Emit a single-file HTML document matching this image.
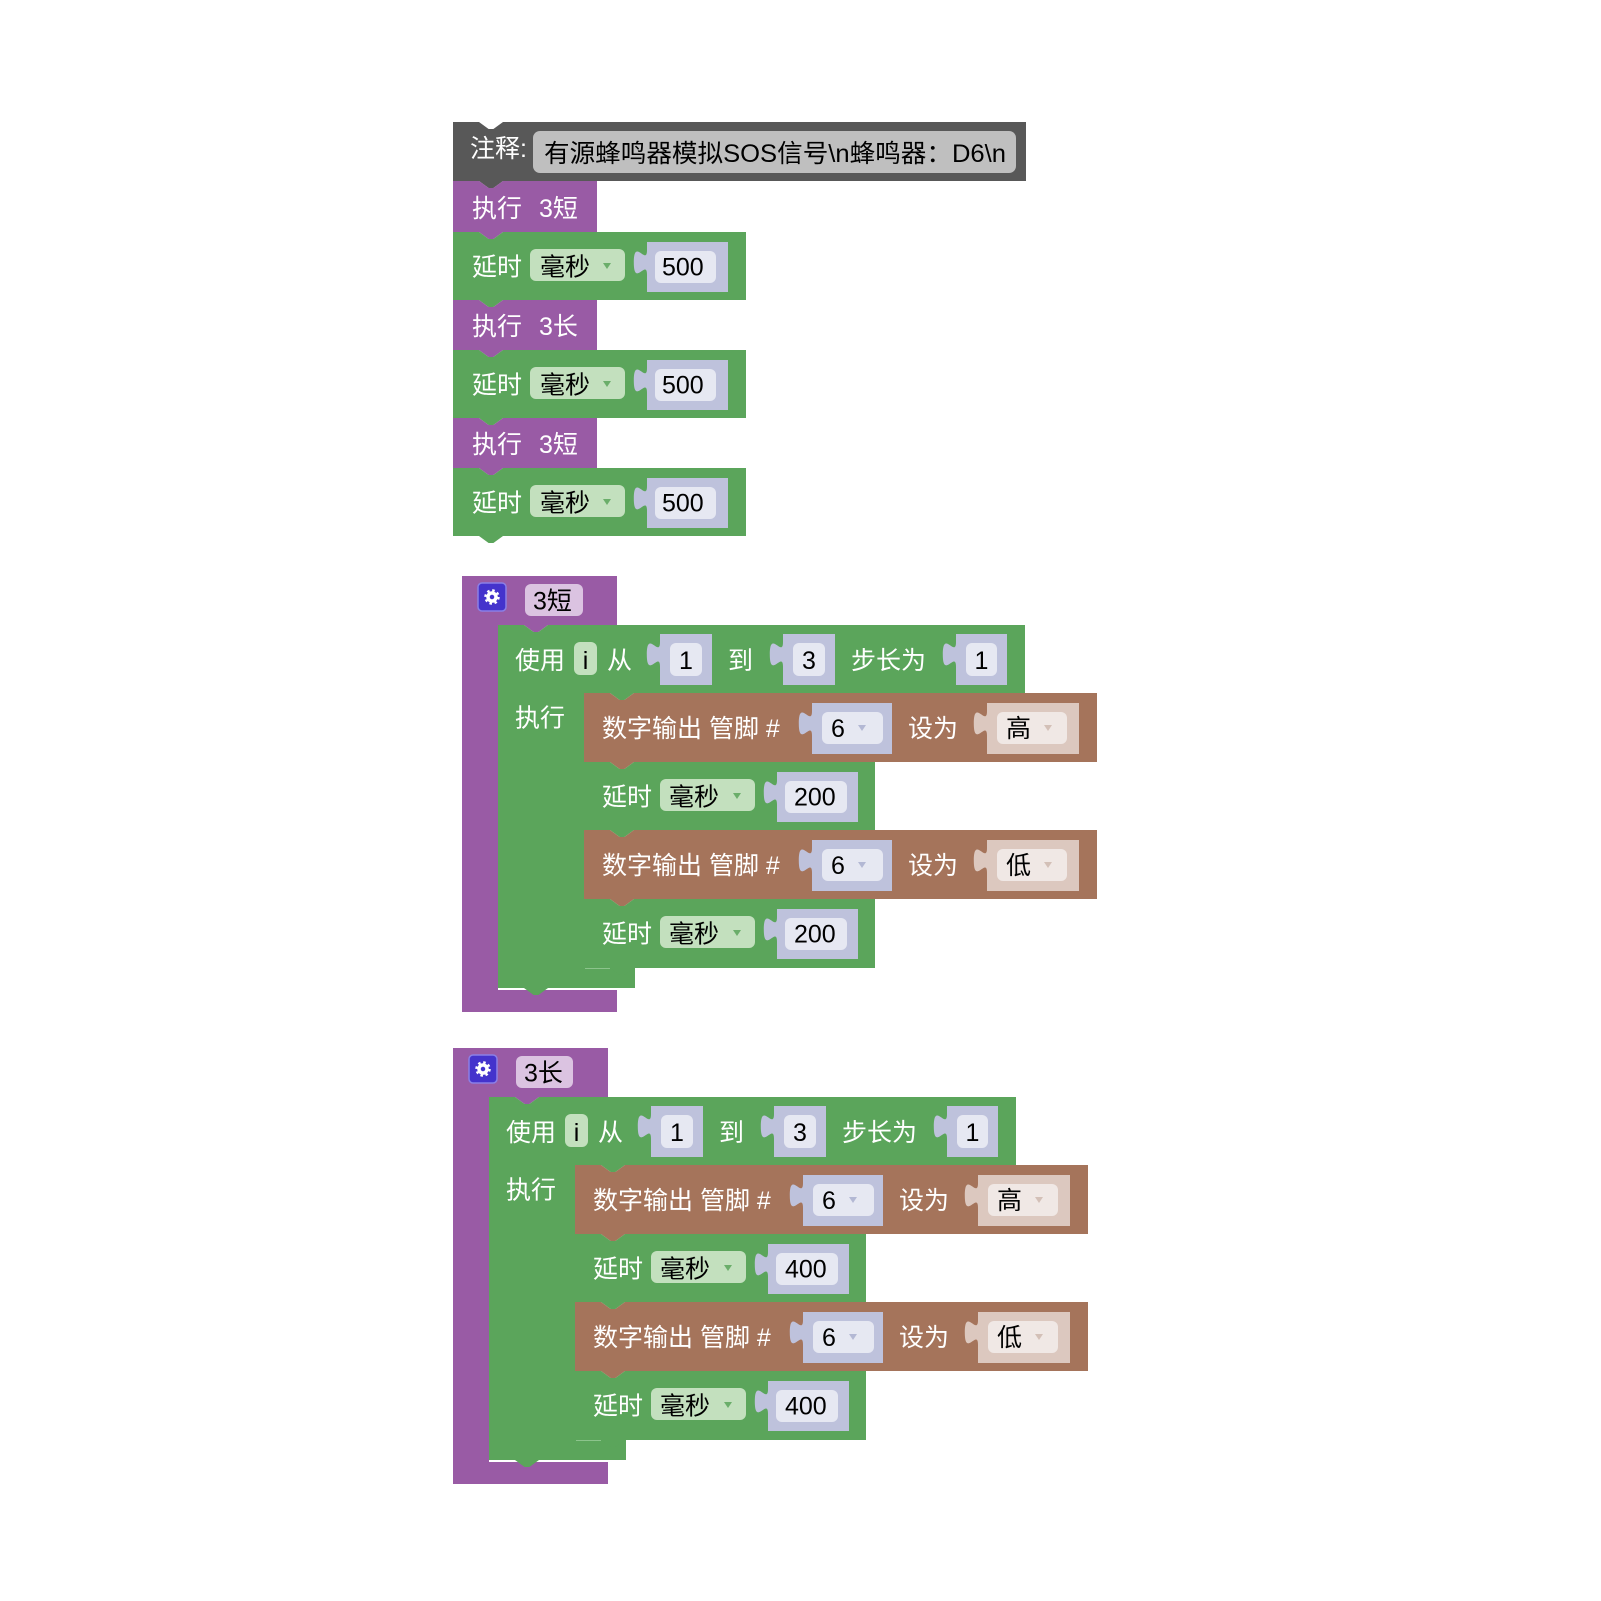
<!DOCTYPE html>
<html>
<head>
<meta charset="utf-8">
<style>
  html,body{margin:0;padding:0;background:#ffffff;}
  svg{display:block;}
  text{font-family:"Liberation Sans","Noto Sans CJK SC",sans-serif;font-size:25px;}
  .w{fill:#ffffff;}
  .k{fill:#000000;}
</style>
</head>
<body>
<svg xmlns="http://www.w3.org/2000/svg" width="1601" height="1601" viewBox="0 0 1601 1601">
  <rect x="0" y="0" width="1601" height="1601" fill="#ffffff"/>

  <!-- ============ STACK 1 ============ -->
  <!-- Comment block -->
  <path d="M453,122 H479 l9.6,7 4.8,0 9.6,-7 H1026 V181 H503 l-9.6,7 -4.8,0 -9.6,-7 H453 Z" fill="#585858"/>
  <rect x="533" y="131" width="483" height="42" rx="7" fill="#bfbfbf"/>
  <text class="w" x="470" y="157">注释:</text>
  <text class="k" x="544" y="162" textLength="462" lengthAdjust="spacingAndGlyphs">有源蜂鸣器模拟SOS信号\n蜂鸣器：D6\n</text>

  <!-- Purple 执行 3短 -->
  <path d="M453,181 H479 l9.6,7 4.8,0 9.6,-7 H597 V232 H503 l-9.6,7 -4.8,0 -9.6,-7 H453 Z" fill="#995ba5"/>
  <text class="w" x="472" y="217">执行</text>
  <text class="w" x="539" y="217">3短</text>

  <!-- Green delay 1 -->
  <path d="M453,232 H479 l9.6,7 4.8,0 9.6,-7 H746 V300 H503 l-9.6,7 -4.8,0 -9.6,-7 H453 Z" fill="#5ba55b"/>
  <text class="w" x="472" y="275.5">延时</text>
  <rect x="530" y="249" width="95" height="32" rx="6" fill="#c3e0be"/>
  <text class="k" x="540" y="275.5">毫秒</text>
  <polygon points="603,263 611,263 607,269" fill="#6aae6a"/>
  <path d="M647,242 V250 c0,16.5 -13.2,-13.2 -13.2,12.4 s13.2,-4.1 13.2,12.4 V292 H728 V242 Z" fill="#bec2dc"/>
  <rect x="655" y="251" width="61" height="32" rx="6" fill="#e6e8f2"/>
  <text class="k" x="662" y="275.5">500</text>

  <!-- Purple 执行 3长 -->
  <path d="M453,300 H479 l9.6,7 4.8,0 9.6,-7 H597 V350 H503 l-9.6,7 -4.8,0 -9.6,-7 H453 Z" fill="#995ba5"/>
  <text class="w" x="472" y="335">执行</text>
  <text class="w" x="539" y="335">3长</text>

  <!-- Green delay 2 -->
  <path d="M453,350 H479 l9.6,7 4.8,0 9.6,-7 H746 V418 H503 l-9.6,7 -4.8,0 -9.6,-7 H453 Z" fill="#5ba55b"/>
  <text class="w" x="472" y="393.5">延时</text>
  <rect x="530" y="367" width="95" height="32" rx="6" fill="#c3e0be"/>
  <text class="k" x="540" y="393.5">毫秒</text>
  <polygon points="603,381 611,381 607,387" fill="#6aae6a"/>
  <path d="M647,360 V368 c0,16.5 -13.2,-13.2 -13.2,12.4 s13.2,-4.1 13.2,12.4 V410 H728 V360 Z" fill="#bec2dc"/>
  <rect x="655" y="369" width="61" height="32" rx="6" fill="#e6e8f2"/>
  <text class="k" x="662" y="393.5">500</text>

  <!-- Purple 执行 3短 -->
  <path d="M453,418 H479 l9.6,7 4.8,0 9.6,-7 H597 V468 H503 l-9.6,7 -4.8,0 -9.6,-7 H453 Z" fill="#995ba5"/>
  <text class="w" x="472" y="453">执行</text>
  <text class="w" x="539" y="453">3短</text>

  <!-- Green delay 3 -->
  <path d="M453,468 H479 l9.6,7 4.8,0 9.6,-7 H746 V536 H503 l-9.6,7 -4.8,0 -9.6,-7 H453 Z" fill="#5ba55b"/>
  <text class="w" x="472" y="511.5">延时</text>
  <rect x="530" y="485" width="95" height="32" rx="6" fill="#c3e0be"/>
  <text class="k" x="540" y="511.5">毫秒</text>
  <polygon points="603,499 611,499 607,505" fill="#6aae6a"/>
  <path d="M647,478 V486 c0,16.5 -13.2,-13.2 -13.2,12.4 s13.2,-4.1 13.2,12.4 V528 H728 V478 Z" fill="#bec2dc"/>
  <rect x="655" y="487" width="61" height="32" rx="6" fill="#e6e8f2"/>
  <text class="k" x="662" y="511.5">500</text>

  <!-- ============ PROCEDURE 1 (3短) ============ -->
  <g id="proc1">
    <!-- purple C -->
    <path d="M462,576 H617 V625 H548 l-9.6,7 -4.8,0 -9.6,-7 H498 V990 H617 V1012 H462 Z" fill="#995ba5"/>
    <rect x="478" y="583" width="28" height="28" rx="4" fill="#4433cc" stroke="#8a7fe6" stroke-width="1.5"/>
    <circle cx="492" cy="597" r="4" fill="none" stroke="#ffffff" stroke-width="3.5"/>
    <circle cx="492" cy="597" r="6.5" fill="none" stroke="#ffffff" stroke-width="2.5" stroke-dasharray="2.5 2.6"/>
    <rect x="525" y="584" width="58" height="32" rx="6" fill="#dbc3e1"/>
    <text class="k" x="533" y="609.5">3短</text>

    <!-- green loop -->
    <path d="M498,625 H524 l9.6,7 4.8,0 9.6,-7 H1025 V693 H634 l-9.6,7 -4.8,0 -9.6,-7 H584 V968 H635 V988 H548 l-9.6,7 -4.8,0 -9.6,-7 H498 Z" fill="#5ba55b"/>
    <text class="w" x="515" y="669">使用</text>
    <rect x="574" y="642" width="23" height="33" rx="6" fill="#c3e0be"/>
    <text class="k" x="585.5" y="669" text-anchor="middle">i</text>
    <text class="w" x="607" y="669">从</text>
    <path d="M660,634 V642 c0,16.5 -13.2,-13.2 -13.2,12.4 s13.2,-4.1 13.2,12.4 V685 H712 V634 Z" fill="#bec2dc"/>
    <rect x="670" y="643" width="32" height="33" rx="6" fill="#e6e8f2"/>
    <text class="k" x="686" y="669" text-anchor="middle">1</text>
    <text class="w" x="728" y="669">到</text>
    <path d="M783,634 V642 c0,16.5 -13.2,-13.2 -13.2,12.4 s13.2,-4.1 13.2,12.4 V685 H835 V634 Z" fill="#bec2dc"/>
    <rect x="793" y="643" width="32" height="33" rx="6" fill="#e6e8f2"/>
    <text class="k" x="809" y="669" text-anchor="middle">3</text>
    <text class="w" x="851" y="669">步长为</text>
    <path d="M956,634 V642 c0,16.5 -13.2,-13.2 -13.2,12.4 s13.2,-4.1 13.2,12.4 V685 H1007 V634 Z" fill="#bec2dc"/>
    <rect x="966" y="643" width="31" height="33" rx="6" fill="#e6e8f2"/>
    <text class="k" x="981.5" y="669" text-anchor="middle">1</text>
    <text class="w" x="515" y="726.5">执行</text>

    <!-- brown 1 -->
    <path d="M584,693 H610 l9.6,7 4.8,0 9.6,-7 H1097 V762 H634 l-9.6,7 -4.8,0 -9.6,-7 H584 Z" fill="#a5745b"/>
    <text class="w" x="602" y="737" xml:space="preserve">数字输出 管脚 #</text>
    <path d="M812,703 V711 c0,16.5 -13.2,-13.2 -13.2,12.4 s13.2,-4.1 13.2,12.4 V754 H892 V703 Z" fill="#bec2dc"/>
    <rect x="822" y="712" width="61" height="32" rx="6" fill="#e6e8f2"/>
    <text class="k" x="831" y="737">6</text>
    <polygon points="858,725 866,725 862,731" fill="#b3b8d4"/>
    <text class="w" x="908" y="737">设为</text>
    <path d="M987,703 V711 c0,16.5 -13.2,-13.2 -13.2,12.4 s13.2,-4.1 13.2,12.4 V754 H1079 V703 Z" fill="#dcc8bf"/>
    <rect x="997" y="712" width="70" height="32" rx="6" fill="#f0e8e5"/>
    <text class="k" x="1006" y="737">高</text>
    <polygon points="1044,725 1052,725 1048,731" fill="#d3c0b7"/>

    <!-- green delay 1 -->
    <path d="M584,762 H610 l9.6,7 4.8,0 9.6,-7 H875 V830 H634 l-9.6,7 -4.8,0 -9.6,-7 H584 Z" fill="#5ba55b"/>
    <text class="w" x="602" y="805.5">延时</text>
    <rect x="660" y="779" width="95" height="32" rx="6" fill="#c3e0be"/>
    <text class="k" x="669" y="805.5">毫秒</text>
    <polygon points="733,793 741,793 737,799" fill="#6aae6a"/>
    <path d="M777,772 V780 c0,16.5 -13.2,-13.2 -13.2,12.4 s13.2,-4.1 13.2,12.4 V822 H858 V772 Z" fill="#bec2dc"/>
    <rect x="785" y="781" width="62" height="32" rx="6" fill="#e6e8f2"/>
    <text class="k" x="794" y="805.5">200</text>

    <!-- brown 2 -->
    <path d="M584,830 H610 l9.6,7 4.8,0 9.6,-7 H1097 V899 H634 l-9.6,7 -4.8,0 -9.6,-7 H584 Z" fill="#a5745b"/>
    <text class="w" x="602" y="874" xml:space="preserve">数字输出 管脚 #</text>
    <path d="M812,840 V848 c0,16.5 -13.2,-13.2 -13.2,12.4 s13.2,-4.1 13.2,12.4 V891 H892 V840 Z" fill="#bec2dc"/>
    <rect x="822" y="849" width="61" height="32" rx="6" fill="#e6e8f2"/>
    <text class="k" x="831" y="874">6</text>
    <polygon points="858,862 866,862 862,868" fill="#b3b8d4"/>
    <text class="w" x="908" y="874">设为</text>
    <path d="M987,840 V848 c0,16.5 -13.2,-13.2 -13.2,12.4 s13.2,-4.1 13.2,12.4 V891 H1079 V840 Z" fill="#dcc8bf"/>
    <rect x="997" y="849" width="70" height="32" rx="6" fill="#f0e8e5"/>
    <text class="k" x="1006" y="874">低</text>
    <polygon points="1044,862 1052,862 1048,868" fill="#d3c0b7"/>

    <!-- green delay 2 -->
    <path d="M584,899 H610 l9.6,7 4.8,0 9.6,-7 H875 V968 H634 l-9.6,7 -4.8,0 -9.6,-7 H584 Z" fill="#5ba55b"/>
    <text class="w" x="602" y="942.5">延时</text>
    <rect x="660" y="916" width="95" height="32" rx="6" fill="#c3e0be"/>
    <text class="k" x="669" y="942.5">毫秒</text>
    <polygon points="733,930 741,930 737,936" fill="#6aae6a"/>
    <path d="M777,909 V917 c0,16.5 -13.2,-13.2 -13.2,12.4 s13.2,-4.1 13.2,12.4 V959 H858 V909 Z" fill="#bec2dc"/>
    <rect x="785" y="918" width="62" height="32" rx="6" fill="#e6e8f2"/>
    <text class="k" x="794" y="942.5">200</text>
    <line x1="585" y1="968.5" x2="610" y2="968.5" stroke="#8cc48c" stroke-width="1"/>
  </g>

  <!-- ============ PROCEDURE 2 (3长) ============ -->
  <g transform="translate(-9,472)">
    <path d="M462,576 H617 V625 H548 l-9.6,7 -4.8,0 -9.6,-7 H498 V990 H617 V1012 H462 Z" fill="#995ba5"/>
    <rect x="478" y="583" width="28" height="28" rx="4" fill="#4433cc" stroke="#8a7fe6" stroke-width="1.5"/>
    <circle cx="492" cy="597" r="4" fill="none" stroke="#ffffff" stroke-width="3.5"/>
    <circle cx="492" cy="597" r="6.5" fill="none" stroke="#ffffff" stroke-width="2.5" stroke-dasharray="2.5 2.6"/>
    <rect x="525" y="584" width="57" height="32" rx="6" fill="#dbc3e1"/>
    <text class="k" x="533" y="609.5">3长</text>

    <path d="M498,625 H524 l9.6,7 4.8,0 9.6,-7 H1025 V693 H634 l-9.6,7 -4.8,0 -9.6,-7 H584 V968 H635 V988 H548 l-9.6,7 -4.8,0 -9.6,-7 H498 Z" fill="#5ba55b"/>
    <text class="w" x="515" y="669">使用</text>
    <rect x="574" y="642" width="23" height="33" rx="6" fill="#c3e0be"/>
    <text class="k" x="585.5" y="669" text-anchor="middle">i</text>
    <text class="w" x="607" y="669">从</text>
    <path d="M660,634 V642 c0,16.5 -13.2,-13.2 -13.2,12.4 s13.2,-4.1 13.2,12.4 V685 H712 V634 Z" fill="#bec2dc"/>
    <rect x="670" y="643" width="32" height="33" rx="6" fill="#e6e8f2"/>
    <text class="k" x="686" y="669" text-anchor="middle">1</text>
    <text class="w" x="728" y="669">到</text>
    <path d="M783,634 V642 c0,16.5 -13.2,-13.2 -13.2,12.4 s13.2,-4.1 13.2,12.4 V685 H835 V634 Z" fill="#bec2dc"/>
    <rect x="793" y="643" width="32" height="33" rx="6" fill="#e6e8f2"/>
    <text class="k" x="809" y="669" text-anchor="middle">3</text>
    <text class="w" x="851" y="669">步长为</text>
    <path d="M956,634 V642 c0,16.5 -13.2,-13.2 -13.2,12.4 s13.2,-4.1 13.2,12.4 V685 H1007 V634 Z" fill="#bec2dc"/>
    <rect x="966" y="643" width="31" height="33" rx="6" fill="#e6e8f2"/>
    <text class="k" x="981.5" y="669" text-anchor="middle">1</text>
    <text class="w" x="515" y="726.5">执行</text>

    <path d="M584,693 H610 l9.6,7 4.8,0 9.6,-7 H1097 V762 H634 l-9.6,7 -4.8,0 -9.6,-7 H584 Z" fill="#a5745b"/>
    <text class="w" x="602" y="737" xml:space="preserve">数字输出 管脚 #</text>
    <path d="M812,703 V711 c0,16.5 -13.2,-13.2 -13.2,12.4 s13.2,-4.1 13.2,12.4 V754 H892 V703 Z" fill="#bec2dc"/>
    <rect x="822" y="712" width="61" height="32" rx="6" fill="#e6e8f2"/>
    <text class="k" x="831" y="737">6</text>
    <polygon points="858,725 866,725 862,731" fill="#b3b8d4"/>
    <text class="w" x="908" y="737">设为</text>
    <path d="M987,703 V711 c0,16.5 -13.2,-13.2 -13.2,12.4 s13.2,-4.1 13.2,12.4 V754 H1079 V703 Z" fill="#dcc8bf"/>
    <rect x="997" y="712" width="70" height="32" rx="6" fill="#f0e8e5"/>
    <text class="k" x="1006" y="737">高</text>
    <polygon points="1044,725 1052,725 1048,731" fill="#d3c0b7"/>

    <path d="M584,762 H610 l9.6,7 4.8,0 9.6,-7 H875 V830 H634 l-9.6,7 -4.8,0 -9.6,-7 H584 Z" fill="#5ba55b"/>
    <text class="w" x="602" y="805.5">延时</text>
    <rect x="660" y="779" width="95" height="32" rx="6" fill="#c3e0be"/>
    <text class="k" x="669" y="805.5">毫秒</text>
    <polygon points="733,793 741,793 737,799" fill="#6aae6a"/>
    <path d="M777,772 V780 c0,16.5 -13.2,-13.2 -13.2,12.4 s13.2,-4.1 13.2,12.4 V822 H858 V772 Z" fill="#bec2dc"/>
    <rect x="785" y="781" width="62" height="32" rx="6" fill="#e6e8f2"/>
    <text class="k" x="794" y="805.5">400</text>

    <path d="M584,830 H610 l9.6,7 4.8,0 9.6,-7 H1097 V899 H634 l-9.6,7 -4.8,0 -9.6,-7 H584 Z" fill="#a5745b"/>
    <text class="w" x="602" y="874" xml:space="preserve">数字输出 管脚 #</text>
    <path d="M812,840 V848 c0,16.5 -13.2,-13.2 -13.2,12.4 s13.2,-4.1 13.2,12.4 V891 H892 V840 Z" fill="#bec2dc"/>
    <rect x="822" y="849" width="61" height="32" rx="6" fill="#e6e8f2"/>
    <text class="k" x="831" y="874">6</text>
    <polygon points="858,862 866,862 862,868" fill="#b3b8d4"/>
    <text class="w" x="908" y="874">设为</text>
    <path d="M987,840 V848 c0,16.5 -13.2,-13.2 -13.2,12.4 s13.2,-4.1 13.2,12.4 V891 H1079 V840 Z" fill="#dcc8bf"/>
    <rect x="997" y="849" width="70" height="32" rx="6" fill="#f0e8e5"/>
    <text class="k" x="1006" y="874">低</text>
    <polygon points="1044,862 1052,862 1048,868" fill="#d3c0b7"/>

    <path d="M584,899 H610 l9.6,7 4.8,0 9.6,-7 H875 V968 H634 l-9.6,7 -4.8,0 -9.6,-7 H584 Z" fill="#5ba55b"/>
    <text class="w" x="602" y="942.5">延时</text>
    <rect x="660" y="916" width="95" height="32" rx="6" fill="#c3e0be"/>
    <text class="k" x="669" y="942.5">毫秒</text>
    <polygon points="733,930 741,930 737,936" fill="#6aae6a"/>
    <path d="M777,909 V917 c0,16.5 -13.2,-13.2 -13.2,12.4 s13.2,-4.1 13.2,12.4 V959 H858 V909 Z" fill="#bec2dc"/>
    <rect x="785" y="918" width="62" height="32" rx="6" fill="#e6e8f2"/>
    <text class="k" x="794" y="942.5">400</text>
    <line x1="585" y1="968.5" x2="610" y2="968.5" stroke="#8cc48c" stroke-width="1"/>
  </g>
</svg>
</body>
</html>
